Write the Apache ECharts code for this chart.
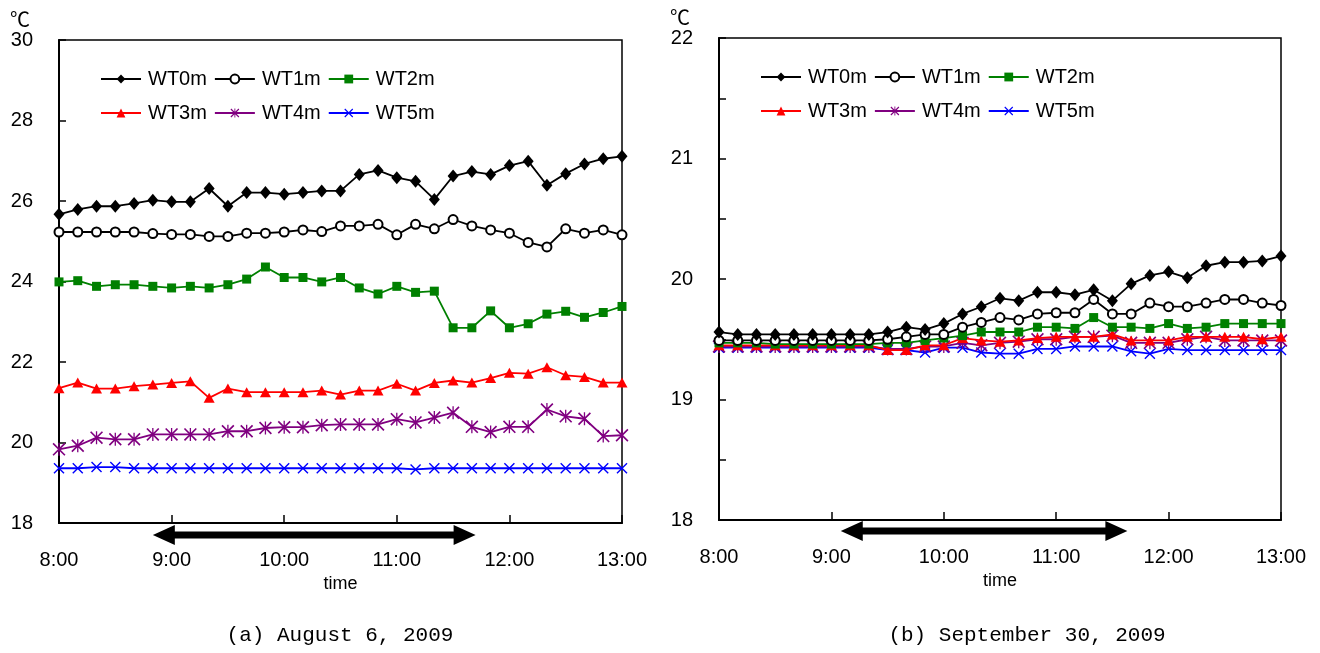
<!DOCTYPE html>
<html>
<head>
<meta charset="utf-8">
<title>WT</title>
<script src="https://cdn.jsdelivr.net/npm/echarts@6/dist/echarts.min.js"></script>
<style>
html,body{margin:0;padding:0;background:#fff;}
#main{width:1320px;height:653px;}
</style>
</head>
<body>
<div id="main"></div>
<script>
// time axis, 10 min steps
var timeLabels = ['8:00','8:10','8:20','8:30','8:40','8:50','9:00','9:10','9:20','9:30','9:40','9:50',
    '10:00','10:10','10:20','10:30','10:40','10:50','11:00','11:10','11:20','11:30','11:40','11:50',
    '12:00','12:10','12:20','12:30','12:40','12:50','13:00'];
var seriesNames = ['WT0m','WT1m','WT2m','WT3m','WT4m','WT5m'];

// (a) August 6, 2009
var augWT0 = [25.67,25.79,25.87,25.87,25.94,26.02,25.98,25.98,26.31,25.87,26.21,26.21,26.17,26.21,26.25,26.25,26.66,26.76,26.58,26.49,26.04,26.62,26.73,26.66,26.88,26.99,26.39,26.68,26.92,27.05,27.11];
var augWT1 = [25.23,25.23,25.23,25.23,25.23,25.19,25.17,25.17,25.12,25.12,25.20,25.20,25.23,25.28,25.24,25.38,25.38,25.42,25.16,25.42,25.31,25.54,25.38,25.28,25.20,24.97,24.86,25.31,25.20,25.28,25.16];
var augWT2 = [23.99,24.02,23.88,23.92,23.92,23.88,23.84,23.88,23.84,23.92,24.06,24.36,24.10,24.10,23.99,24.10,23.84,23.69,23.88,23.73,23.76,22.85,22.85,23.27,22.85,22.95,23.19,23.26,23.11,23.23,23.38];
var augWT3 = [21.35,21.49,21.34,21.34,21.40,21.44,21.48,21.52,21.11,21.34,21.25,21.25,21.25,21.25,21.29,21.19,21.29,21.29,21.46,21.29,21.48,21.54,21.49,21.60,21.73,21.71,21.87,21.67,21.63,21.49,21.49];
var augWT4 = [19.83,19.92,20.12,20.08,20.08,20.20,20.20,20.20,20.20,20.28,20.28,20.36,20.38,20.38,20.43,20.45,20.45,20.45,20.58,20.50,20.62,20.74,20.39,20.26,20.39,20.39,20.82,20.65,20.59,20.16,20.18];
var augWT5 = [19.36,19.36,19.39,19.39,19.36,19.36,19.36,19.36,19.36,19.36,19.36,19.36,19.36,19.36,19.36,19.36,19.36,19.36,19.36,19.33,19.36,19.36,19.36,19.36,19.36,19.36,19.36,19.36,19.36,19.36,19.36];

// (b) September 30, 2009
var sepWT0 = [19.56,19.54,19.54,19.54,19.54,19.54,19.54,19.54,19.54,19.56,19.60,19.58,19.63,19.71,19.77,19.84,19.82,19.89,19.89,19.87,19.91,19.82,19.96,20.03,20.06,20.01,20.11,20.14,20.14,20.15,20.19];
var sepWT1 = [19.49,19.49,19.49,19.49,19.49,19.49,19.49,19.49,19.49,19.50,19.52,19.54,19.54,19.60,19.64,19.68,19.66,19.71,19.72,19.72,19.83,19.71,19.71,19.80,19.77,19.77,19.80,19.83,19.83,19.80,19.78];
var sepWT2 = [19.47,19.47,19.47,19.46,19.46,19.46,19.46,19.46,19.46,19.47,19.47,19.49,19.51,19.53,19.56,19.56,19.56,19.60,19.60,19.59,19.68,19.60,19.60,19.59,19.63,19.59,19.60,19.63,19.63,19.63,19.63];
var sepWT3 = [19.45,19.45,19.45,19.45,19.45,19.45,19.45,19.45,19.45,19.41,19.41,19.45,19.45,19.51,19.49,19.48,19.49,19.51,19.52,19.52,19.52,19.54,19.49,19.49,19.49,19.52,19.52,19.52,19.52,19.50,19.52];
var sepWT4 = [19.44,19.44,19.44,19.44,19.44,19.44,19.44,19.44,19.44,19.42,19.42,19.44,19.44,19.47,19.45,19.47,19.48,19.50,19.50,19.52,19.52,19.53,19.47,19.47,19.47,19.50,19.52,19.49,19.49,19.49,19.49];
var sepWT5 = [19.43,19.43,19.43,19.43,19.43,19.43,19.43,19.43,19.43,19.41,19.41,19.39,19.43,19.43,19.39,19.38,19.38,19.42,19.42,19.44,19.44,19.44,19.40,19.38,19.42,19.41,19.41,19.41,19.41,19.41,19.41];

// measuring period (minutes after 8:00)
var augPeriod = [50, 222];
var sepPeriod = [65, 218];

var subTitles = ['(a) August 6, 2009', '(b) September 30, 2009'];

var symX = 'path://M0 1.8L1.8 0L20 18.2L18.2 20Z M18.2 0L20 1.8L1.8 20L0 18.2Z';
var symStar = symX + ' M9 0L11 0L11 20L9 20Z';

var styles = [
    {color:'#000000', symbol:'diamond', size:[11,13]},
    {color:'#000000', symbol:'emptyCircle', size:9},
    {color:'#008000', symbol:'rect', size:9},
    {color:'#ff0000', symbol:'triangle', size:[11,10]},
    {color:'#800080', symbol:symStar, size:13},
    {color:'#0000ff', symbol:symX, size:11}
];

var baseFont = 'Liberation Sans, Arial, sans-serif';

function makeSeries(idx, list) {
    var out = [];
    for (var i = 0; i < list.length; i++) {
        var st = styles[i];
        out.push({
            name: seriesNames[i],
            type: 'line',
            xAxisIndex: idx,
            yAxisIndex: idx,
            data: list[i],
            symbol: st.symbol,
            symbolSize: st.size,
            showAllSymbol: true,
            animation: false,
            lineStyle: {color: st.color, width: 1.8},
            itemStyle: {color: st.color, borderColor: st.color, borderWidth: st.symbol == 'emptyCircle' ? 1.3 : 0},
            emphasis: {disabled: true},
            z: 10 - i
        });
    }
    return out;
}

function makeLegend(left, top, names) {
    return {
        left: left, top: top, padding: 0,
        orient: 'horizontal',
        itemWidth: 40, itemHeight: 11, itemGap: 7,
        selectedMode: false,
        data: names,
        textStyle: {fontSize: 20, fontFamily: baseFont, color: '#000', padding: [0, 0, 0, 2]}
    };
}

var axisLineStyle = {show: true, onZero: false, lineStyle: {color: '#000', width: 2}};

function makeX(idx) {
    return {
        type: 'category', gridIndex: idx, data: timeLabels, boundaryGap: false,
        axisLine: axisLineStyle,
        axisTick: {show: true, inside: true, length: 8, interval: 5, lineStyle: {color: '#000', width: 1.5}},
        axisLabel: {interval: 5, margin: 27, fontSize: 20, fontFamily: baseFont, color: '#000', showMinLabel: true, showMaxLabel: true},
        splitLine: {show: false},
        name: 'time', nameLocation: 'middle', nameGap: 49,
        nameTextStyle: {fontSize: 18, fontFamily: baseFont, color: '#000'}
    };
}

function makeY(idx, min, max, interval) {
    return {
        type: 'value', gridIndex: idx, min: min, max: max, interval: interval,
        axisLine: axisLineStyle,
        axisTick: {show: true, inside: true, length: 7, lineStyle: {color: '#000', width: 1.5}},
        axisLabel: {
            margin: 26, fontSize: 20, fontFamily: baseFont, color: '#000', padding: [5, 0, 0, 0],
            formatter: function (v) { return v % 1 === 0 ? String(v) : ''; }
        },
        splitLine: {show: false}
    };
}

var chart = echarts.init(document.getElementById('main'));
var option = {
    backgroundColor: '#fff',
    animation: false,
    grid: [
        {left: 59, top: 40, width: 563, height: 483, show: true, borderColor: '#000', borderWidth: 1.5},
        {left: 719, top: 38, width: 562, height: 482, show: true, borderColor: '#000', borderWidth: 1.5}
    ],
    xAxis: [makeX(0), makeX(1)],
    yAxis: [makeY(0, 18, 30, 2), makeY(1, 18, 22, 0.5)],
    legend: [
        makeLegend(100, 69, seriesNames.slice(0, 3)),
        makeLegend(100, 103, seriesNames.slice(3)),
        makeLegend(760, 67, seriesNames.slice(0, 3)),
        makeLegend(760, 101, seriesNames.slice(3))
    ],
    series: makeSeries(0, [augWT0, augWT1, augWT2, augWT3, augWT4, augWT5])
        .concat(makeSeries(1, [sepWT0, sepWT1, sepWT2, sepWT3, sepWT4, sepWT5]))
};
chart.setOption(option);

// double headed arrow under the time axis
function arrowShape(gridIdx, period, yOff) {
    var p0 = chart.convertToPixel({gridIndex: gridIdx}, [0, option.yAxis[gridIdx].min]);
    var p1 = chart.convertToPixel({gridIndex: gridIdx}, [timeLabels.length - 1, option.yAxis[gridIdx].min]);
    var total = (timeLabels.length - 1) * 10;
    var x1 = p0[0] + (p1[0] - p0[0]) * period[0] / total;
    var x2 = p0[0] + (p1[0] - p0[0]) * period[1] / total;
    var y = p0[1] + yOff;
    var hl = 22, hh = 10, t = 3.5;
    return {
        type: 'polygon',
        shape: {points: [[x1, y], [x1 + hl, y - hh], [x1 + hl, y - t], [x2 - hl, y - t], [x2 - hl, y - hh],
            [x2, y], [x2 - hl, y + hh], [x2 - hl, y + t], [x1 + hl, y + t], [x1 + hl, y + hh]]},
        style: {fill: '#000'},
        silent: true
    };
}

function label(x, y, text, font) {
    return {
        type: 'text', x: x, y: y, silent: true,
        style: {text: text, font: font, fill: '#000', textAlign: 'center', textVerticalAlign: 'middle', align: 'center', verticalAlign: 'middle'}
    };
}

chart.setOption({
    graphic: [
        arrowShape(0, augPeriod, 12),
        arrowShape(1, sepPeriod, 11),
        label(20, 19, '℃', '20px "Noto Sans CJK JP", sans-serif'),
        label(680, 17, '℃', '20px "Noto Sans CJK JP", sans-serif'),
        label(340, 635, subTitles[0], '21px "Liberation Mono", monospace'),
        label(1027, 635, subTitles[1], '21px "Liberation Mono", monospace')
    ]
});
</script>
</body>
</html>
